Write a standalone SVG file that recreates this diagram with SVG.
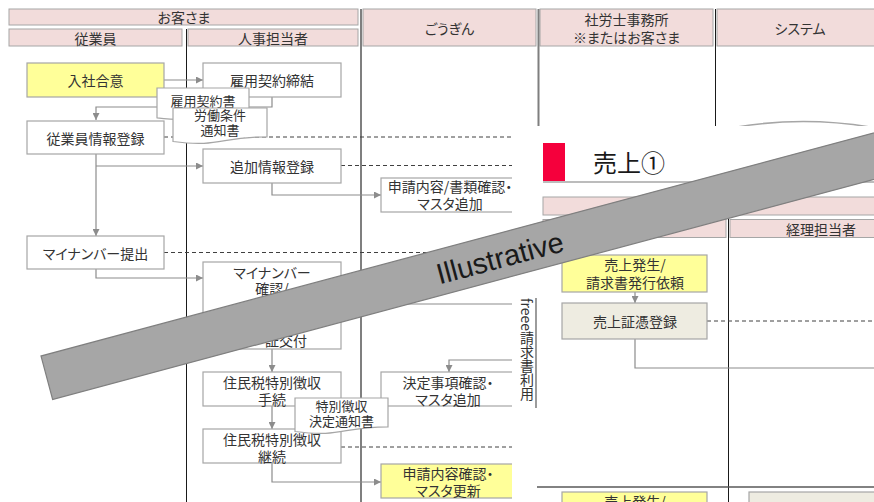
<svg xmlns="http://www.w3.org/2000/svg" width="874" height="502" viewBox="0 0 874 502">
<defs>
<marker id="ah" viewBox="0 0 8 8" refX="8" refY="4" markerWidth="7" markerHeight="7" markerUnits="userSpaceOnUse" orient="auto">
<path d="M0,0 L8,4 L0,8 Z" fill="#8c8c8c"/>
</marker>
<style>
.hd{fill:#f2dcdb;stroke:#a6a6a6;stroke-width:1}
.nd{fill:#ffffff;stroke:#a6a6a6;stroke-width:1.2}
.yl{fill:#ffff99;stroke:#a6a6a6;stroke-width:1.2}
.bg{fill:#eeece1;stroke:#a6a6a6;stroke-width:1.2}
.t{font-family:"Noto Sans CJK JP","Noto Sans CJK SC",sans-serif;font-size:14px;fill:#333333;text-anchor:middle;dominant-baseline:central;font-feature-settings:"palt"}
.s{font-size:13px}
.c{fill:none;stroke:#8c8c8c;stroke-width:1.2}
.ca{fill:none;stroke:#8c8c8c;stroke-width:1.2;marker-end:url(#ah)}
.d{fill:none;stroke:#404040;stroke-width:1;stroke-dasharray:4 3}
.sep{stroke:#7f7f7f;stroke-width:2}
.bl{stroke:#1a1a1a;stroke-width:1}
</style>
</defs>
<rect x="0" y="0" width="874" height="502" fill="#ffffff"/>

<!-- left slide lanes -->
<g id="lanes">
<rect class="hd" x="9" y="9" width="349" height="16"/>
<text class="t" x="184" y="17">お客さま</text>
<rect class="hd" x="9" y="29" width="173" height="17"/>
<text class="t" x="95.5" y="37.5">従業員</text>
<rect class="hd" x="188" y="29" width="170" height="17"/>
<text class="t" x="273" y="37.5">人事担当者</text>
<rect class="hd" x="363" y="9" width="173" height="37"/>
<text class="t" x="449.5" y="27.5">ごうぎん</text>
<rect class="hd" x="540" y="9" width="173" height="37"/>
<text class="t" x="626.5" y="18.5">社労士事務所</text>
<text class="t" x="626.5" y="36.5">※またはお客さま</text>
<rect class="hd" x="717" y="9" width="170" height="37"/>
<text class="t" x="800" y="27.5">システム</text>
<line class="bl" x1="186.5" y1="29" x2="186.5" y2="502"/>
<line class="sep" x1="361" y1="9" x2="361" y2="502"/>
<line class="sep" x1="538.5" y1="9" x2="538.5" y2="502"/>
<line class="bl" x1="715.5" y1="9" x2="715.5" y2="502"/>
<path d="M737,127 Q803,116 870,127" fill="none" stroke="#a6a6a6" stroke-width="1.5"/>
</g>

<!-- connectors (left slide) -->
<g id="connectors">
<path class="ca" d="M164,80 H203"/>
<path class="ca" d="M272,97 V107 H96 V120"/>
<path class="ca" d="M96,154 V236"/>
<path class="ca" d="M96,166 H203"/>
<path class="ca" d="M272,183 V195 H381"/>
<path class="ca" d="M96,269 V278 H203"/>
<path class="ca" d="M272,349 V372"/>
<path class="ca" d="M272,406 V429"/>
<path class="ca" d="M272,463 V482 H381"/>
<path class="c" d="M341,304 H520"/>
<path class="ca" d="M520,360 H449 V372"/>
<path class="d" d="M164,137 H520"/>
<path class="d" d="M341,165.5 H520"/>
<path class="d" d="M164,252.5 H520"/>
<path class="d" d="M341,447 H520"/>
</g>

<g id="n-nyusha"><rect class="yl" x="27" y="63" width="137" height="34"/><text class="t" x="95.5" y="80">入社合意</text></g>
<g id="n-koyo"><rect class="nd" x="203" y="63" width="138" height="34"/><text class="t" x="272" y="80">雇用契約締結</text></g>
<g id="n-jugyoin"><rect class="nd" x="27" y="121" width="137" height="33"/><text class="t" x="95.5" y="137.5">従業員情報登録</text></g>
<g id="n-tsuika"><rect class="nd" x="203" y="149" width="138" height="34"/><text class="t" x="272" y="166">追加情報登録</text></g>
<g id="n-shinsei1"><rect class="nd" x="381" y="178" width="138" height="34"/><text class="t" x="450" y="186">申請内容/書類確認・</text><text class="t" x="450" y="203">マスタ追加</text></g>
<g id="n-mynumber"><rect class="nd" x="27" y="236" width="137" height="33"/><text class="t" x="95.5" y="252.5">マイナンバー提出</text></g>
<g id="n-mynumber-kakunin"><rect class="nd" x="203" y="262" width="138" height="87"/><text class="t" x="272" y="272">マイナンバー</text><text class="t" x="272" y="288">確認/</text><text class="t" x="307" y="340" style="text-anchor:end">証交付</text></g>
<g id="n-tetsuzuki"><rect class="nd" x="203" y="372" width="138" height="34"/><text class="t" x="272" y="381.5">住民税特別徴収</text><text class="t" x="272" y="398.5">手続</text></g>
<g id="n-keizoku"><rect class="nd" x="203" y="429" width="138" height="34"/><text class="t" x="272" y="438.5">住民税特別徴収</text><text class="t" x="272" y="455.5">継続</text></g>
<g id="n-kettei"><rect class="nd" x="381" y="372" width="138" height="34"/><text class="t" x="448" y="381.5">決定事項確認・</text><text class="t" x="448" y="398.5">マスタ追加</text></g>
<g id="n-shinsei2"><rect class="yl" x="381" y="464" width="138" height="34"/><text class="t" x="448" y="473">申請内容確認・</text><text class="t" x="448" y="490">マスタ更新</text></g>
<g id="doc-koyo"><path class="nd" d="M157,88 H249 V113.6 C203,113.6 203,123.4 157,117.8 Z"/><text class="t s" x="203" y="100.5">雇用契約書</text></g>
<g id="doc-rodo"><path class="nd" d="M173,108 H267 V136.8 C220,136.8 220,147.8 173,141.5 Z"/><text class="t s" x="220" y="114">労働条件</text><text class="t s" x="220" y="129">通知書</text></g>
<g id="doc-tokubetsu"><path class="nd" d="M295,398 H388 V426.8 C341.5,426.8 341.5,437.8 295,431.5 Z"/><text class="t s" x="341.5" y="405">特別徴収</text><text class="t s" x="341.5" y="420">決定通知書</text></g>

<!-- overlay slide -->
<g id="overlay">
<rect x="512" y="126" width="362" height="376" fill="#ffffff"/>
<rect x="543" y="143" width="22" height="38" fill="#f5003c"/>
<text x="593" y="172" style="font-family:'Noto Sans CJK JP',sans-serif;font-size:24px;fill:#1a1a1a">売上①</text>
<line x1="543" y1="182" x2="874" y2="182" stroke="#a6a6a6" stroke-width="1.5"/>
<rect class="hd" x="543" y="197" width="340" height="18"/>
<rect class="hd" x="543" y="219.5" width="183" height="18"/>
<rect class="hd" x="730" y="219.5" width="160" height="18"/>
<text class="t" x="821" y="228.5">経理担当者</text>
<line class="bl" x1="728.5" y1="219" x2="728.5" y2="502"/>
<line x1="537" y1="487" x2="874" y2="487" stroke="#595959" stroke-width="1.5"/>
<text x="527" y="298" style="font-family:'Noto Sans CJK JP',sans-serif;font-size:14px;fill:#333333;writing-mode:vertical-rl">freee請求書利用</text>
<line x1="536" y1="298" x2="536" y2="408" stroke="#595959" stroke-width="1.2"/>
</g>
<g id="connectors-overlay">
<path class="ca" d="M635,292 V303"/>
<path class="d" d="M707,321 H874"/>
<path class="c" d="M635,339 V368 H874"/>
</g>
<g id="o-hassei"><rect class="yl" x="562" y="255" width="145" height="37"/><text class="t" x="635" y="264">売上発生/</text><text class="t" x="635" y="282">請求書発行依頼</text></g>
<g id="o-shohyo"><rect class="bg" x="562" y="303" width="145" height="36"/><text class="t" x="635" y="321">売上証憑登録</text></g>
<g id="o-hassei2"><rect class="yl" x="562" y="492" width="145" height="37"/><text class="t" x="635" y="501">売上発生/</text></g>
<g id="o-bottom2"><rect class="bg" x="749" y="492" width="145" height="37"/></g>

<!-- watermark band -->
<g id="band">
<rect x="41" y="356" width="900" height="45" fill="#a6a6a6" stroke="#7f7f7f" stroke-width="1.2" transform="rotate(-15 41 356)"/>
<text x="0" y="0" transform="translate(500 258) rotate(-15)" style="font-family:'Liberation Sans',sans-serif;font-size:29px;fill:#1a1a1a;text-anchor:middle;dominant-baseline:central">Illustrative</text>
</g>
</svg>
